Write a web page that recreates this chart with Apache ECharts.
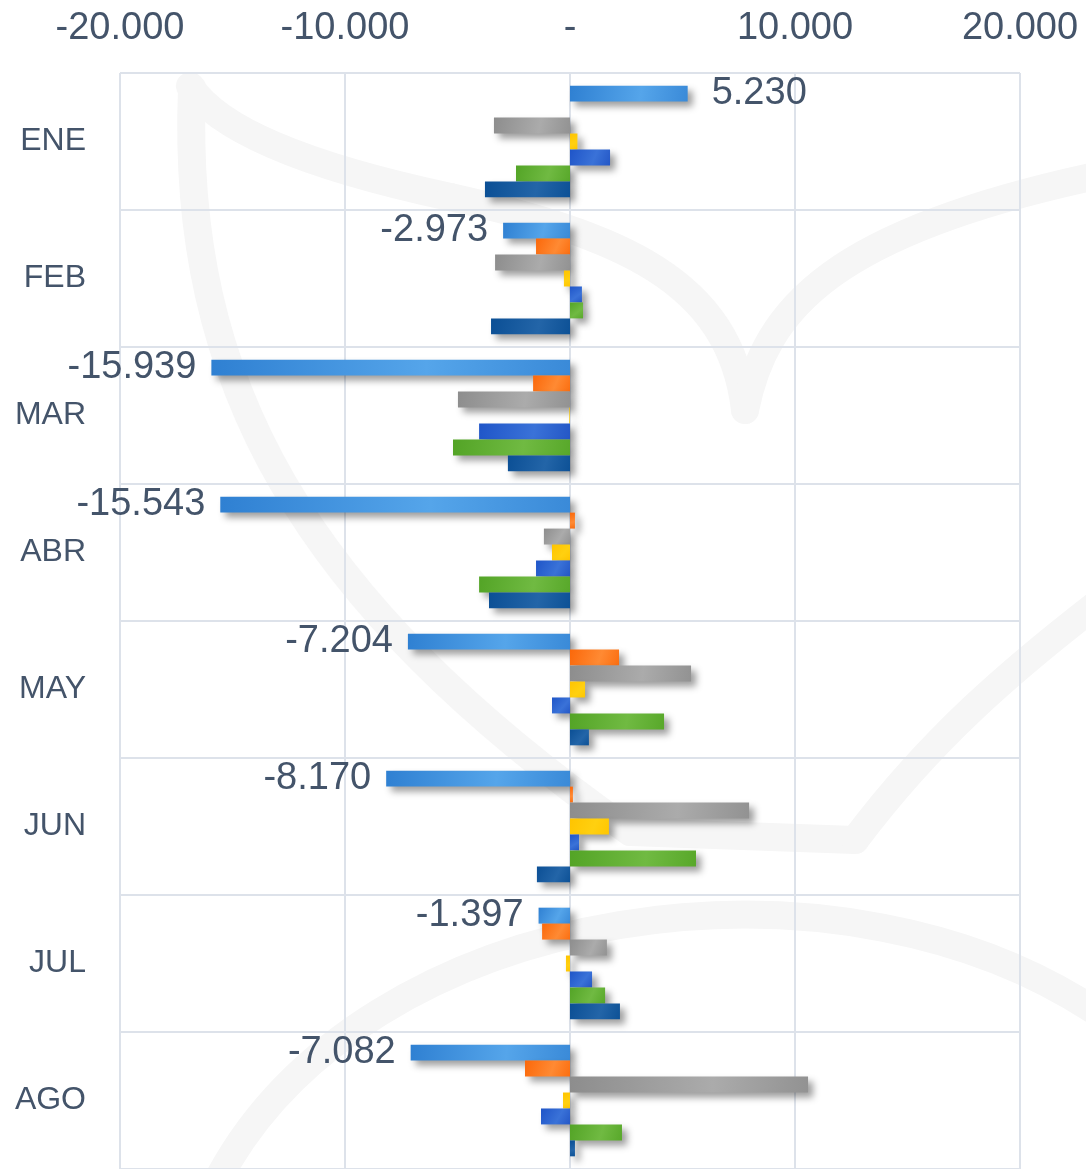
<!DOCTYPE html>
<html>
<head>
<meta charset="utf-8">
<script src="https://cdn.jsdelivr.net/npm/echarts@6/dist/echarts.min.js"></script>
<style>
  html, body { margin: 0; padding: 0; background: #ffffff; }
  #chart { width: 1086px; height: 1169px; }
</style>
</head>
<body>
<div id="chart"></div>
<script>
// ---- Data ----
var categories = ['ENE', 'FEB', 'MAR', 'ABR', 'MAY', 'JUN', 'JUL', 'AGO'];
var xTicks = [-20000, -10000, 0, 10000, 20000];

var serieAzulClaro  = [5230, -2973, -15939, -15543, -7204, -8170, -1397, -7082];
var serieNaranja    = [0, -1510, -1640, 220, 2180, 130, -1240, -2000];
var serieGris       = [-3380, -3330, -4980, -1160, 5380, 7960, 1640, 10580];
var serieAmarillo   = [330, -270, -30, -800, 670, 1730, -180, -310];
var serieAzul       = [1780, 530, -4040, -1510, -800, 400, 980, -1290];
var serieVerde      = [-2400, 580, -5200, -4040, 4180, 5600, 1560, 2310];
var serieAzulOscuro = [-3780, -3510, -2760, -3600, 840, -1470, 2220, 220];

var TEXT = '#44546A';
var GRID = '#dde2ea';
var FONT = "'Liberation Sans', Arial, sans-serif";

function fmt(v) {
  if (v === 0) return '-';
  var s = Math.abs(Math.round(v)).toString().replace(/\B(?=(\d{3})+(?!\d))/g, '.');
  return (v < 0 ? '-' : '') + s;
}

function grad(c1, c2, c3) {
  return new echarts.graphic.LinearGradient(0, 0, 1, 1, [
    { offset: 0, color: c1 },
    { offset: 0.6, color: c2 },
    { offset: 1, color: c3 }
  ]);
}

var shadow = {
  shadowColor: 'rgba(0,0,0,0.38)',
  shadowBlur: 7,
  shadowOffsetX: 5,
  shadowOffsetY: 5
};

function style(c1, c2, c3) {
  return Object.assign({ color: grad(c1, c2, c3) }, shadow);
}

var seriesDefs = [
  { name: 'Azul claro', data: serieAzulClaro, style: style('#2f80d2', '#55a5ea', '#3a8ad8'), labels: true },
  { name: 'Naranja', data: serieNaranja, style: style('#fb680a', '#ff8a33', '#fb6e10') },
  { name: 'Gris', data: serieGris, style: style('#8d8d8d', '#ababab', '#929292') },
  { name: 'Amarillo', data: serieAmarillo, style: style('#ffc400', '#ffd010', '#ffc600') },
  { name: 'Azul', data: serieAzul, style: style('#1f55c8', '#3a72d8', '#2457c6') },
  { name: 'Verde', data: serieVerde, style: style('#53a426', '#70ba42', '#58a82a') },
  { name: 'Azul oscuro', data: serieAzulOscuro, style: style('#0b4f95', '#2365a8', '#0d5196') }
];

var series = seriesDefs.map(function (d, i) {
  return {
    name: d.name,
    type: 'bar',
    barGap: '0%',
    barCategoryGap: '18.5%',
    itemStyle: d.style,
    z: 3,
    data: d.data.map(function (v) {
      var item = { value: v };
      if (d.labels) {
        item.label = {
          show: true,
          position: v < 0 ? 'left' : 'right',
          distance: v < 0 ? 15 : 24,
          formatter: function (p) { return fmt(p.value); },
          color: TEXT,
          fontSize: 38,
          fontFamily: FONT,
          padding: [5, 0, 0, 0]
        };
      }
      return item;
    })
  };
});

// Faint background watermark (decorative logo strokes)
var wmStyle = { stroke: '#f6f6f6', lineWidth: 28, lineCap: 'round', lineJoin: 'round', fill: null };
function curve(x1, y1, cx1, cy1, cx2, cy2, x2, y2) {
  var shape = { x1: x1, y1: y1, cpx1: cx1, cpy1: cy1, x2: x2, y2: y2 };
  if (cx2 != null) { shape.cpx2 = cx2; shape.cpy2 = cy2; }
  return { type: 'bezierCurve', z: -10, silent: true, shape: shape, style: wmStyle };
}
var watermark = [
  curve(190, 86, 230, 150, null, null, 450, 197),
  curve(450, 197, 620, 235, 730, 280, 745, 410),
  curve(745, 410, 765, 310, 830, 230, 1115, 172),
  curve(192, 88, 180, 380, 300, 600, 630, 832),
  { type: 'line', z: -10, silent: true, shape: { x1: 630, y1: 832, x2: 855, y2: 840 }, style: wmStyle },
  curve(855, 840, 930, 740, 1010, 670, 1115, 590),
  curve(215, 1185, 360, 900, 850, 830, 1115, 1025)
];

var chart = echarts.init(document.getElementById('chart'), null, { renderer: 'canvas' });
chart.setOption({
  backgroundColor: '#ffffff',
  animation: false,
  graphic: watermark,
  grid: { left: 120, top: 73, width: 900, height: 1099, containLabel: false },
  xAxis: {
    type: 'value',
    position: 'top',
    min: xTicks[0],
    max: xTicks[xTicks.length - 1],
    interval: xTicks[1] - xTicks[0],
    axisLine: { show: false },
    axisTick: { show: false },
    splitLine: { show: true, lineStyle: { color: GRID, width: 2 } },
    axisLabel: {
      color: TEXT,
      fontSize: 38,
      fontFamily: FONT,
      margin: 25,
      formatter: function (v) { return fmt(v); }
    }
  },
  yAxis: {
    type: 'category',
    inverse: true,
    data: categories,
    axisLine: { show: false },
    axisTick: { show: false },
    splitLine: { show: true, lineStyle: { color: GRID, width: 2 } },
    axisLabel: {
      color: TEXT,
      fontSize: 32,
      fontFamily: FONT,
      margin: 34,
      padding: [6, 0, 0, 0]
    }
  },
  series: series
});
</script>
</body>
</html>
